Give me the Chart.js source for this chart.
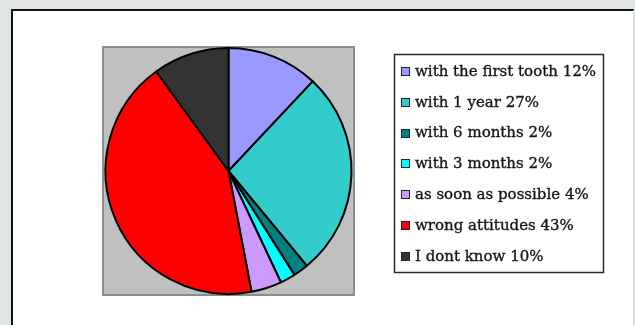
<!DOCTYPE html>
<html lang="en">
<head>
<meta charset="UTF-8">
<title>Tooth brushing start</title>
<script src="https://cdn.jsdelivr.net/npm/chart.js"></script>
<style>
    body { margin: 0; background: #e1e4e5; width: 635px; height: 325px; overflow: hidden; position: relative; }
    #panel {
        position: absolute; left: 11px; top: 9px; width: 620px; height: 330px;
        background: #fff; border-left: 2px solid #111; border-top: 2px solid #111;
        border-right: 1px solid #d6d6d6;
    }
    #pieChart { position: absolute; left: 0; top: 0; }
</style>
</head>
<body>
    <div id="panel"></div>
    <canvas id="pieChart" width="635" height="325"></canvas>

    <script>
        // Answers and their share in percent
        const answers = ['with the first tooth', 'with 1 year', 'with 6 months', 'with 3 months',
                         'as soon as possible', 'wrong attitudes', 'I dont know'];
        const shares = [12, 27, 2, 2, 4, 43, 10];
        const sliceColors = ['#9999ff', '#33cccc', '#008080', '#00ffff', '#cc99ff', '#ff0000', '#333333'];

        // Grey plot area behind the pie
        const plotBox = {
            id: 'plotBox',
            beforeDraw(chart) {
                const {ctx, chartArea: a} = chart;
                ctx.save();
                ctx.fillStyle = '#c0c0c0';
                ctx.fillRect(a.left, a.top, a.right - a.left, a.bottom - a.top);
                ctx.strokeStyle = '#8c8c8c';
                ctx.lineWidth = 2;
                ctx.strokeRect(a.left, a.top, a.right - a.left, a.bottom - a.top);
                ctx.restore();
            }
        };

        // Boxed legend on the right, text built from the data
        const boxLegend = {
            id: 'boxLegend',
            afterDraw(chart) {
                const ctx = chart.ctx;
                const labels = chart.data.labels;
                const ds = chart.data.datasets[0];
                ctx.save();
                ctx.strokeStyle = '#2a2a2a';
                ctx.lineWidth = 1.5;
                ctx.strokeRect(394.5, 54.5, 209, 218);
                ctx.font = '15px "DejaVu Serif"';
                ctx.textBaseline = 'middle';
                labels.forEach((lbl, i) => {
                    const y = 71 + i * 30.8;
                    ctx.fillStyle = ds.backgroundColor[i];
                    ctx.fillRect(401, Math.round(y) - 4, 9, 9);
                    ctx.lineWidth = 1;
                    ctx.strokeStyle = '#222';
                    ctx.strokeRect(401.5, Math.round(y) - 3.5, 8, 8);
                    const txt = lbl + ' ' + ds.data[i] + '%';
                    ctx.fillStyle = '#151515';
                    ctx.fillText(txt, 415, y + 1);
                    ctx.lineWidth = 0.35;
                    ctx.strokeStyle = '#151515';
                    ctx.strokeText(txt, 415, y + 1);
                });
                ctx.restore();
            }
        };

        const ctx = document.getElementById('pieChart').getContext('2d');
        new Chart(ctx, {
            type: 'pie',
            data: {
                labels: answers,
                datasets: [{
                    data: shares,
                    backgroundColor: sliceColors,
                    borderColor: '#000',
                    borderWidth: 2
                }]
            },
            options: {
                responsive: false,
                animation: false,
                layout: { padding: { left: 103, top: 47, right: 281, bottom: 30 } },
                plugins: {
                    legend: { display: false },
                    tooltip: { enabled: false }
                }
            },
            plugins: [plotBox, boxLegend]
        });
    </script>
</body>
</html>
